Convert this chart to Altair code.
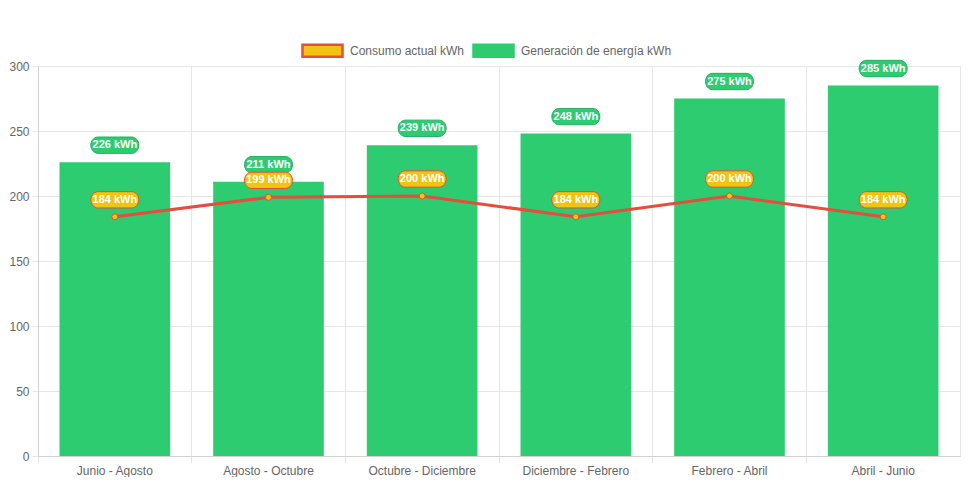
import altair as alt
import pandas as pd

periodos = ["Junio - Agosto", "Agosto - Octubre", "Octubre - Diciembre",
            "Diciembre - Febrero", "Febrero - Abril", "Abril - Junio"]
generacion = [226, 211, 239, 248, 275, 285]
consumo = [184, 199, 200, 184, 200, 184]
series = ["Consumo actual kWh", "Generación de energía kWh"]

df_gen = pd.DataFrame({"periodo": periodos, "valor": generacion, "serie": series[1]})
df_con = pd.DataFrame({"periodo": periodos, "valor": consumo, "serie": series[0]})

FONT = "Liberation Sans"
GREEN = "#2ecc71"
GREEN_D = "#27ae60"
YELLOW = "#f1c40f"
RED = "#e74c3c"

PILL = ("M-0.72,-0.34 H0.72 A0.3,0.34 0 0 1 1,0 A0.3,0.34 0 0 1 0.72,0.34 "
        "H-0.72 A0.3,0.34 0 0 1 -1,0 A0.3,0.34 0 0 1 -0.72,-0.34 Z")
BOX = "M-1,-0.3 H1 V0.3 H-1 Z"

W, H = 922, 390

x = alt.X("periodo:N", sort=periodos, title=None,
          scale=alt.Scale(paddingInner=0, paddingOuter=0),
          axis=alt.Axis(bandPosition=0, labelAngle=0,
                        tickSize=7, labelPadding=2, grid=True))
y = alt.Y("valor:Q", title=None,
          scale=alt.Scale(domain=[0, 300], nice=False),
          axis=alt.Axis(values=[0, 50, 100, 150, 200, 250, 300], tickSize=6,
                        labelPadding=3, grid=True))

leg = dict(title=None, orient="none", direction="horizontal",
           legendX=263, legendY=-37, symbolType=BOX,
           symbolSize=1600, symbolStrokeWidth=2.5,
           labelFont=FONT, labelFontSize=12,
           labelColor="#666666", columnPadding=3, labelOffset=6)

bars = alt.Chart(df_gen).mark_bar(width=alt.RelativeBandSize(0.72), strokeWidth=0).encode(
    x=x, y=y,
    fill=alt.Fill("serie:N", scale=alt.Scale(domain=series, range=[YELLOW, GREEN]),
                  legend=alt.Legend(**leg)),
    stroke=alt.Stroke("serie:N", scale=alt.Scale(domain=series, range=[RED, GREEN]),
                      legend=alt.Legend(**leg)),
)

xc = alt.X("periodo:N", sort=periodos, bandPosition=0.5)

gen_lab = alt.Chart(df_gen).transform_calculate(txt="datum.valor + ' kWh'")
gen_badge = gen_lab.mark_point(shape=PILL, size=2304, filled=True, fill=GREEN,
                               stroke=GREEN_D, strokeWidth=1, opacity=1,
                               yOffset=-17).encode(x=xc, y="valor:Q")
gen_text = gen_lab.mark_text(font=FONT, fontSize=11, fontWeight="bold", color="white",
                             yOffset=-17, baseline="middle").encode(
    x=xc, y="valor:Q", text="txt:N")

line = alt.Chart(df_con).mark_line(stroke=RED, strokeWidth=3).encode(x=xc, y="valor:Q")
pts = alt.Chart(df_con).mark_point(filled=True, fill=YELLOW, stroke=RED, strokeWidth=1,
                                   size=36, opacity=1).encode(x=xc, y="valor:Q")

con_lab = alt.Chart(df_con).transform_calculate(txt="datum.valor + ' kWh'")
con_badge = con_lab.mark_point(shape=PILL, size=2304, filled=True, fill=YELLOW,
                               stroke=RED, strokeWidth=1, opacity=1,
                               yOffset=-17).encode(x=xc, y="valor:Q")
con_text = con_lab.mark_text(font=FONT, fontSize=11, fontWeight="bold", color="white",
                             yOffset=-17, baseline="middle").encode(
    x=xc, y="valor:Q", text="txt:N")

chart = alt.layer(bars, gen_badge, gen_text, line, pts, con_badge, con_text).properties(
    width=W, height=H,
    autosize=alt.AutoSizeParams(type="none"),
    padding={"left": 30, "top": 58, "right": 3, "bottom": 21},
).configure_view(stroke="#e6e6e6").configure_axis(
    gridColor="#e6e6e6", tickColor="#e6e6e6", domainColor="#d0d0d0",
    labelFont=FONT, labelFontSize=12, labelColor="#666666",
).configure_legend(symbolStrokeWidth=2.5)

chart.save("out.html", embed_options={"renderer": "svg", "actions": False})
